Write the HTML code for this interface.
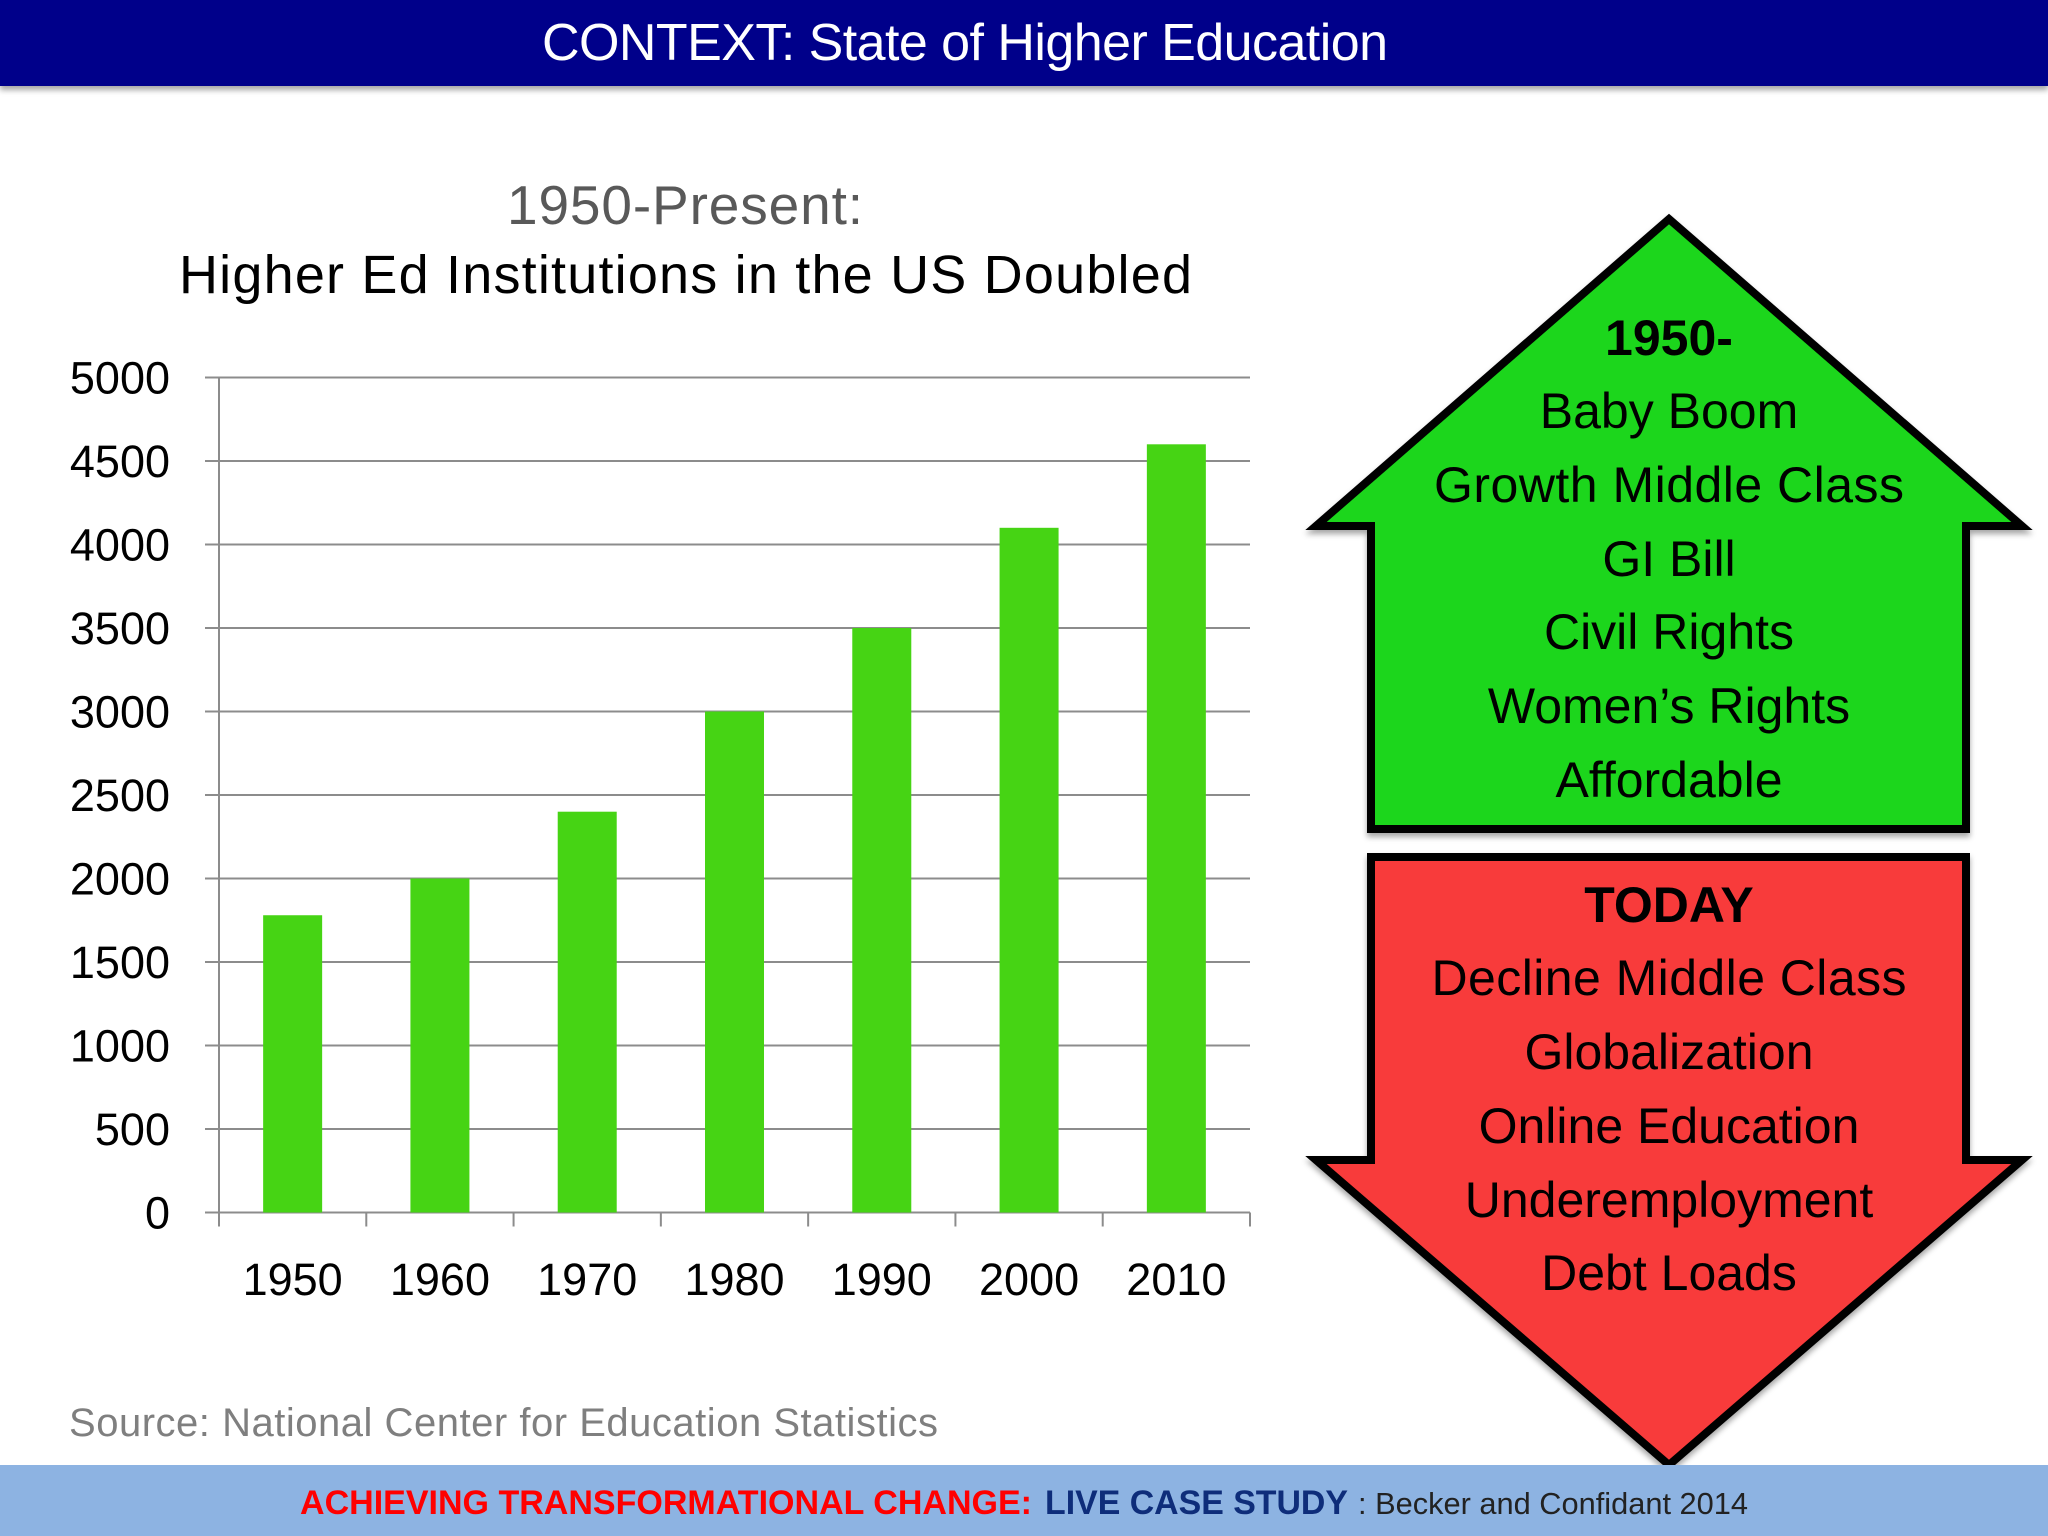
<!DOCTYPE html>
<html><head><meta charset="utf-8"><style>
html,body{margin:0;padding:0;background:#fff;}
svg{display:block;font-family:"Liberation Sans",sans-serif;}
</style></head><body>
<svg id="s" width="2048" height="1536" viewBox="0 0 2048 1536">
<defs><filter id="sh" x="-5%" y="-5%" width="110%" height="120%"><feDropShadow dx="0" dy="4" stdDeviation="3" flood-color="#000" flood-opacity="0.35"/></filter></defs>
<rect x="0" y="0" width="2048" height="86" fill="#06068a" filter="url(#sh)"/>
<text x="965" y="60" font-size="52" fill="#fff" text-anchor="middle" textLength="846">CONTEXT: State of Higher Education</text>
<text x="685" y="224" font-size="55" fill="#595959" text-anchor="middle" textLength="356">1950-Present:</text>
<text x="179" y="293" font-size="54" fill="#000" textLength="1013">Higher Ed Institutions in the US Doubled</text>
<g id="chart"></g>
<text x="69" y="1436" font-size="40" fill="#7f7f7f" textLength="869">Source: National Center for Education Statistics</text>

<g filter="url(#sh)">
<polygon points="1669,219 2022,526 1966,526 1966,829 1371,829 1371,526 1316,526" fill="#1ad61a" stroke="#000" stroke-width="8" stroke-linejoin="miter"/>
</g>
<g font-size="50" text-anchor="middle" fill="#000">
<text x="1669" y="355" font-weight="bold">1950-</text>
<text x="1669" y="428">Baby Boom</text>
<text x="1669" y="502" textLength="470">Growth Middle Class</text>
<text x="1669" y="576">GI Bill</text>
<text x="1669" y="649">Civil Rights</text>
<text x="1669" y="723">Women’s Rights</text>
<text x="1669" y="797">Affordable</text>
</g>
<g filter="url(#sh)">
<polygon points="1371,857 1966,857 1966,1160 2022,1160 1669,1465 1316,1160 1371,1160" fill="#f83a3a" stroke="#000" stroke-width="8"/>
</g>
<g font-size="50" text-anchor="middle" fill="#000">
<text x="1669" y="922" font-weight="bold">TODAY</text>
<text x="1669" y="995" textLength="475">Decline Middle Class</text>
<text x="1669" y="1069">Globalization</text>
<text x="1669" y="1143">Online Education</text>
<text x="1669" y="1217">Underemployment</text>
<text x="1669" y="1290">Debt Loads</text>
</g>

<rect x="0" y="1465" width="2048" height="71" fill="#8db3e2"/>
<text x="300" y="1514" font-size="34" font-weight="bold" fill="#ff0000" textLength="732" lengthAdjust="spacingAndGlyphs">ACHIEVING TRANSFORMATIONAL CHANGE:</text>
<text x="1045" y="1514" font-size="34" font-weight="bold" fill="#0e2d7a" textLength="303" lengthAdjust="spacingAndGlyphs">LIVE CASE STUDY</text>
<text x="1358" y="1514" font-size="31" fill="#222" textLength="390" lengthAdjust="spacingAndGlyphs">: Becker and Confidant 2014</text>
</svg>
<script>
const categories = ["1950","1960","1970","1980","1990","2000","2010"];
const values = [1780, 2000, 2400, 3000, 3500, 4100, 4600];
const yTicks = [0,500,1000,1500,2000,2500,3000,3500,4000,4500,5000];

const NS = "http://www.w3.org/2000/svg";
const g = document.getElementById("chart");
const x0 = 219, x1 = 1250, y0 = 1212.5, yTop = 377.5, yMax = 5000;
const band = (x1 - x0) / categories.length;
const yScale = v => y0 - (v / yMax) * (y0 - yTop);
const xScale = i => x0 + band * i;
function mk(tag, attrs) { const e = document.createElementNS(NS, tag); for (const k in attrs) e.setAttribute(k, attrs[k]); g.appendChild(e); return e; }

yTicks.forEach(t => {
  const y = yScale(t);
  const l = mk("line", {x1: x0 - 14, x2: x1, y1: y, y2: y, stroke: "#8c8c8c", "stroke-width": 2});
  
  
  const tx = mk("text", {x: 170, y: y + 16, "font-size": 45, "text-anchor": "end", fill: "#000"});
  tx.textContent = t;
  
  
});
const ax = mk("line", {x1: x0, x2: x0, y1: yTop, y2: y0, stroke: "#8c8c8c", "stroke-width": 2});


for (let i = 0; i <= categories.length; i++) {
  const tk = mk("line", {x1: xScale(i), x2: xScale(i), y1: y0, y2: y0 + 14, stroke: "#8c8c8c", "stroke-width": 2});
  
  
}
categories.forEach((c, i) => {
  const bw = 59;
  const cx = xScale(i) + band / 2;
  const b = mk("rect", {x: cx - bw / 2, y: yScale(values[i]), width: bw, height: y0 - yScale(values[i]), fill: "#46d414"});
  
  
  const tx = mk("text", {x: cx, y: 1295, "font-size": 45, "text-anchor": "middle", fill: "#000"});
  tx.textContent = c;
  
  
});
</script>
</body></html>
